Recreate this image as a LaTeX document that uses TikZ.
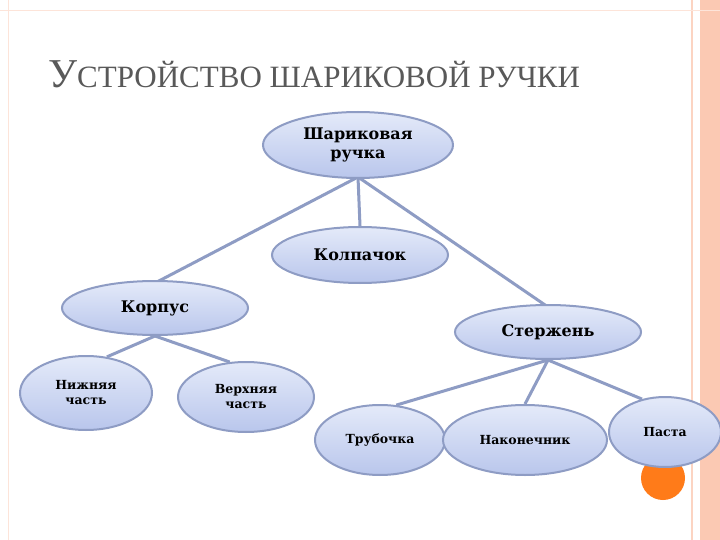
\documentclass[tikz,border=0pt]{standalone}
\usepackage{fontspec}
\setmainfont{Liberation Serif}
\newfontfamily\nodefont{DejaVu Serif}
\usetikzlibrary{shapes.geometric,backgrounds}
\definecolor{edge}{HTML}{8E9CC4}
\definecolor{fillA}{HTML}{E4EAF9}
\definecolor{fillB}{HTML}{B9C6EC}
\definecolor{salmon}{HTML}{FBC9B3}
\definecolor{titlec}{HTML}{595959}
\tikzset{x=1pt,y=-1pt,
 ell/.style={ellipse,draw=edge,line width=2pt,top color=fillA,bottom color=fillB,inner sep=0pt,align=center,font=\nodefont\bfseries\fontsize{16}{19}\selectfont},
 small/.style={font=\nodefont\bfseries\fontsize{12.5}{15}\selectfont},
 conn/.style={draw=edge,line width=3pt}}
\begin{document}
\begin{tikzpicture}
\useasboundingbox (0,0) rectangle (720,540);
\node[anchor=base west,text=titlec,inner sep=0] (title) at (48,88) {\fontsize{41}{44}\selectfont У\fontsize{31}{34}\selectfont СТРОЙСТВО ШАРИКОВОЙ РУЧКИ};
\fill[orange!85!red!90] (663,478) circle (22);
\node[ell,minimum width=190,minimum height=66] (top) at (358,145) {Шариковая\\ручка};
\node[ell,minimum width=176,minimum height=56] (kol) at (360,255) {Колпачок};
\node[ell,minimum width=186,minimum height=54] (kor) at (155,308) {Корпус};
\node[ell,minimum width=186,minimum height=54] (ste) at (548,332) {Стержень};
\node[ell,small,minimum width=132,minimum height=74] (niz) at (86,393) {Нижняя\\часть};
\node[ell,small,minimum width=136,minimum height=70] (ver) at (246,397) {Верхняя\\часть};
\node[ell,small,minimum width=130,minimum height=70] (tru) at (380,440) {Трубочка};
\node[ell,small,minimum width=164,minimum height=70] (nak) at (525,440) {Наконечник};
\node[ell,small,minimum width=112,minimum height=70] (pas) at (665,432) {Паста};
\coordinate (t0) at ([yshift=2]top.south);
\coordinate (k0) at (kor.south);
\coordinate (s0) at (ste.south);
\begin{pgfonlayer}{background}
\fill[white] (0,0) rectangle (720,540);
\fill[salmon] (700,0) rectangle (720,540);
\draw[salmon!80,line width=1.5pt] (692,0) -- (692,540);
\draw[salmon!50,line width=0.8pt] (8,0) -- (8,540);
\draw[salmon!50,line width=0.8pt] (0,10) -- (720,10);
\draw[conn] (t0) -- ([yshift=-3]kor.north);
\draw[conn] (t0) -- (kol.north);
\draw[conn] (t0) -- ([yshift=-3]ste.north);
\draw[conn] (k0) -- (niz.60);
\draw[conn] (k0) -- (ver.115);
\draw[conn] (s0) -- (tru.65);
\draw[conn] (s0) -- (nak.north);
\draw[conn] (s0) -- (pas.125);
\end{pgfonlayer}
\end{tikzpicture}
\end{document}
